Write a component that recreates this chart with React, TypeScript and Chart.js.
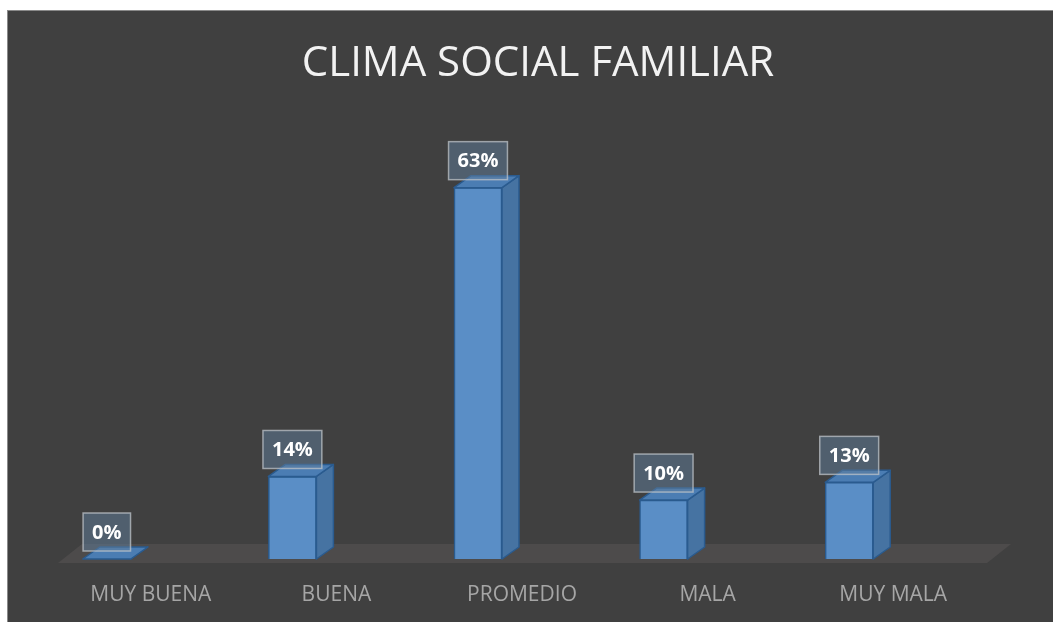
import React, { useEffect, useRef } from "react";
import { Chart, registerables } from "chart.js";

Chart.register(...registerables);

const categories = ["MUY BUENA", "BUENA", "PROMEDIO", "MALA", "MUY MALA"];
const percentages = [0, 14, 63, 10, 13];
const chartTitle = "CLIMA SOCIAL FAMILIAR";

const FRONT = "#5a8ec6";
const SIDE = "#4673a2";
const TOP = "#4b7db3";
const EDGE = "#2a5b8f";
const DX = 17;
const DY = 12;

const bar3d = {
  id: "bar3d",
  beforeDatasetsDraw(chart: any) {
    const { ctx, chartArea } = chart;
    const b = chartArea.bottom;
    ctx.save();
    ctx.fillStyle = "#4d4b4b";
    ctx.beginPath();
    ctx.moveTo(chartArea.left + 44, b + 4);
    ctx.lineTo(chartArea.left + 68, b - 15);
    ctx.lineTo(chartArea.right + 69, b - 15);
    ctx.lineTo(chartArea.right + 45, b + 4);
    ctx.closePath();
    ctx.fill();
    ctx.restore();
  },
  afterDatasetsDraw(chart: any) {
    const { ctx } = chart;
    const meta = chart.getDatasetMeta(0);
    ctx.save();
    ctx.lineJoin = "round";
    ctx.lineWidth = 1.5;
    ctx.strokeStyle = EDGE;
    meta.data.forEach((bar: any) => {
      const { x, y, base, width } = bar.getProps(["x", "y", "base", "width"], true);
      const l = x - width / 2;
      const r = x + width / 2;
      ctx.fillStyle = SIDE;
      ctx.beginPath();
      ctx.moveTo(r, y);
      ctx.lineTo(r + DX, y - DY);
      ctx.lineTo(r + DX, base - DY);
      ctx.lineTo(r, base);
      ctx.closePath();
      ctx.fill();
      ctx.stroke();
      ctx.fillStyle = TOP;
      ctx.beginPath();
      ctx.moveTo(l, y);
      ctx.lineTo(l + DX, y - DY);
      ctx.lineTo(r + DX, y - DY);
      ctx.lineTo(r, y);
      ctx.closePath();
      ctx.fill();
      ctx.stroke();
    });
    ctx.restore();
  },
  afterDraw(chart: any) {
    const { ctx } = chart;
    const meta = chart.getDatasetMeta(0);
    const data = chart.data.datasets[0].data as number[];
    ctx.save();
    ctx.font = "bold 20px 'Open Sans'";
    ctx.textAlign = "center";
    ctx.textBaseline = "middle";
    meta.data.forEach((bar: any, i: number) => {
      const { x, y } = bar.getProps(["x", "y"], true);
      const text = data[i] + "%";
      const w = ctx.measureText(text).width + 18;
      const h = 38;
      const bottom = y - 8;
      const left = x - w / 2;
      ctx.fillStyle = "rgba(95,125,155,0.5)";
      ctx.fillRect(left, bottom - h, w, h);
      ctx.strokeStyle = "rgba(190,195,200,0.75)";
      ctx.lineWidth = 1.5;
      ctx.strokeRect(left, bottom - h, w, h);
      ctx.fillStyle = "#ffffff";
      ctx.fillText(text, x, bottom - h / 2 + 1);
    });
    ctx.restore();
  },
};

export default function App() {
  const ref = useRef<HTMLCanvasElement | null>(null);
  useEffect(() => {
    if (!ref.current) return;
    const chart = new Chart(ref.current, {
      type: "bar",
      data: {
        labels: categories,
        datasets: [
          {
            data: percentages,
            backgroundColor: FRONT,
            borderColor: EDGE,
            borderWidth: 1.5,
            barThickness: 48,
          },
        ],
      },
      options: {
        responsive: false,
        animation: false,
        layout: { padding: { left: 0, right: -15, top: 0, bottom: 0 } },
        plugins: {
          legend: { display: false },
          tooltip: { enabled: false },
          title: {
            display: true,
            text: chartTitle,
            color: "#f2f2f2",
            font: { family: "'Open Sans'", size: 42, weight: "normal" as any },
            padding: { top: 28, bottom: 57 },
          },
        },
        scales: {
          x: {
            grid: { display: false, drawTicks: false, drawOnChartArea: false },
            border: { display: false },
            ticks: {
              color: "#a6a6a6",
              font: { family: "'Open Sans'", size: 21 },
              padding: 23,
              labelOffset: 44,
              maxRotation: 0,
              autoSkip: false,
            },
            afterFit(scale: any) {
              scale.height = 63;
            },
          },
          y: {
            position: "left",
            min: 0,
            max: 70,
            grid: { display: false, drawTicks: false },
            border: { display: false },
            ticks: { display: false },
            afterFit(scale: any) {
              scale.width = 6;
            },
          },
          yPad: {
            position: "right",
            min: 0,
            max: 70,
            grid: { display: false, drawTicks: false },
            border: { display: false },
            ticks: { display: false },
            afterFit(scale: any) {
              scale.width = 126;
            },
          },
        },
      },
      plugins: [bar3d],
    });
    return () => chart.destroy();
  }, []);

  return (
    <div
      style={{
        position: "fixed",
        left: 7,
        top: 10,
        width: 1046,
        height: 612,
        borderLeft: "1px solid #8a8a8a",
        borderTop: "1px solid #8a8a8a",
        background: "#404040",
        overflow: "hidden",
      }}
    >
      <canvas ref={ref} width={1045} height={611} style={{ display: "block" }} />
    </div>
  );
}
